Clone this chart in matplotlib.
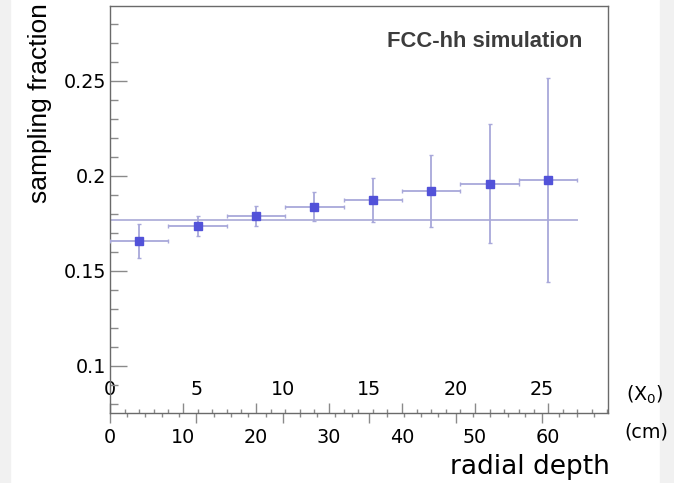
import matplotlib
matplotlib.use("Agg")
import matplotlib.pyplot as plt
import numpy as np
from matplotlib.ticker import MultipleLocator
from matplotlib.patches import Rectangle

# ---- data ----
bin_centers_cm = [4, 12, 20, 28, 36, 44, 52, 60]
bin_halfwidth_cm = [4, 4, 4, 4, 4, 4, 4, 4]
sampling_fraction = [0.1655, 0.1736, 0.1790, 0.1838, 0.1875, 0.1919, 0.1958, 0.1980]
sampling_error = [0.0089, 0.0053, 0.0054, 0.0075, 0.0116, 0.0190, 0.0314, 0.0537]
fit_value = 0.1769
fit_range_cm = [0, 64]
cm_per_x0 = 2.367
x0_ticks = [0, 5, 10, 15, 20, 25]
cm_ticks = [0, 10, 20, 30, 40, 50, 60]
y_ticks = [0.1, 0.15, 0.2, 0.25]
y_tick_labels = ["0.1", "0.15", "0.2", "0.25"]

W, H = 674, 483
fig = plt.figure(figsize=(W / 100, H / 100), dpi=100)
fig.patch.set_facecolor("white")

def px(x, y):
    return x / W, 1 - y / H

# light grey edge strips like the reference screenshot
fig.patches.append(Rectangle((0, 0), 10 / W, 1, transform=fig.transFigure, color="#f1f1f1", zorder=-10))
fig.patches.append(Rectangle((660 / W, 0), 14 / W, 1, transform=fig.transFigure, color="#f1f1f1", zorder=-10))

left, right, top, bottom = 110, 608, 6, 413
ax = fig.add_axes([left / W, 1 - bottom / H, (right - left) / W, (bottom - top) / H])
ax.set_xlim(0, 68.2)
ax.set_ylim(0.0751, 0.2895)

frame_col = "#6a6a6a"
tick_col = "#8a8a8a"
for s in ax.spines.values():
    s.set_color(frame_col)
    s.set_linewidth(1.0)

mcol = "#5252d9"
ecol = "#a8a8da"
fcol = "#b6b6dd"

# fit line
ax.plot(fit_range_cm, [fit_value, fit_value], color=fcol, lw=1.4, zorder=2)

# data with error bars
ax.errorbar(bin_centers_cm, sampling_fraction, xerr=bin_halfwidth_cm, yerr=sampling_error,
            fmt="s", color=mcol, ms=5.6, mec=mcol, ecolor=ecol, elinewidth=1.3,
            capsize=1.5, capthick=1.0, zorder=3)

TL = 13.8

# y axis
ax.set_yticks(y_ticks)
ax.set_yticklabels(y_tick_labels)
ax.yaxis.set_minor_locator(MultipleLocator(0.01))
ax.tick_params(axis="y", which="major", direction="in", length=12, width=1.0,
               color=tick_col, labelsize=TL, pad=3, right=False)
ax.tick_params(axis="y", which="minor", direction="in", length=5.8, width=1.0,
               color=tick_col, right=False)

# cm axis (primary x): ticks upward, labels below
ax.set_xticks(cm_ticks)
ax.set_xticklabels([str(t) for t in cm_ticks])
ax.xaxis.set_minor_locator(MultipleLocator(2))
ax.tick_params(axis="x", which="major", direction="in", length=7.2, width=1.0,
               color=tick_col, labelsize=TL, pad=10.5, top=False)
ax.tick_params(axis="x", which="minor", direction="in", length=3.0, width=1.0,
               color=tick_col, top=False)

# X0 axis (secondary): ticks downward, labels above
sec = ax.secondary_xaxis(0, functions=(lambda c: np.asarray(c) / cm_per_x0,
                                        lambda x: np.asarray(x) * cm_per_x0))
sec.set_xticks(x0_ticks)
sec.set_xticklabels([str(t) for t in x0_ticks])
sec.xaxis.set_minor_locator(MultipleLocator(1))
sec.xaxis.set_ticks_position("top")
sec.tick_params(axis="x", which="major", direction="in", length=7.5, width=1.0,
                color=tick_col, labelsize=TL, pad=10.0, labeltop=True, labelbottom=False)
sec.tick_params(axis="x", which="minor", direction="in", length=3.0, width=1.0,
                color=tick_col, labeltop=False, labelbottom=False)
for s in sec.spines.values():
    s.set_visible(False)

# axis unit labels
fig.text(*px(645, 401), r"(X$_{0}$)", fontsize=TL, ha="center", va="baseline")
fig.text(*px(646, 437), "(cm)", fontsize=TL, ha="center", va="baseline")

# axis titles
fig.text(*px(610, 474), "radial depth", fontsize=19, ha="right", va="baseline")
fig.text(*px(40.5, 3), "sampling fraction", fontsize=19, rotation=90,
         ha="center", va="top", family="Liberation Sans")

# annotation
fig.text(*px(582, 47), "FCC-hh simulation", fontsize=15.8, fontweight="bold",
         family="Liberation Sans", color="#3c3c3c", ha="right", va="baseline")

fig.savefig("out.png", dpi=100)
